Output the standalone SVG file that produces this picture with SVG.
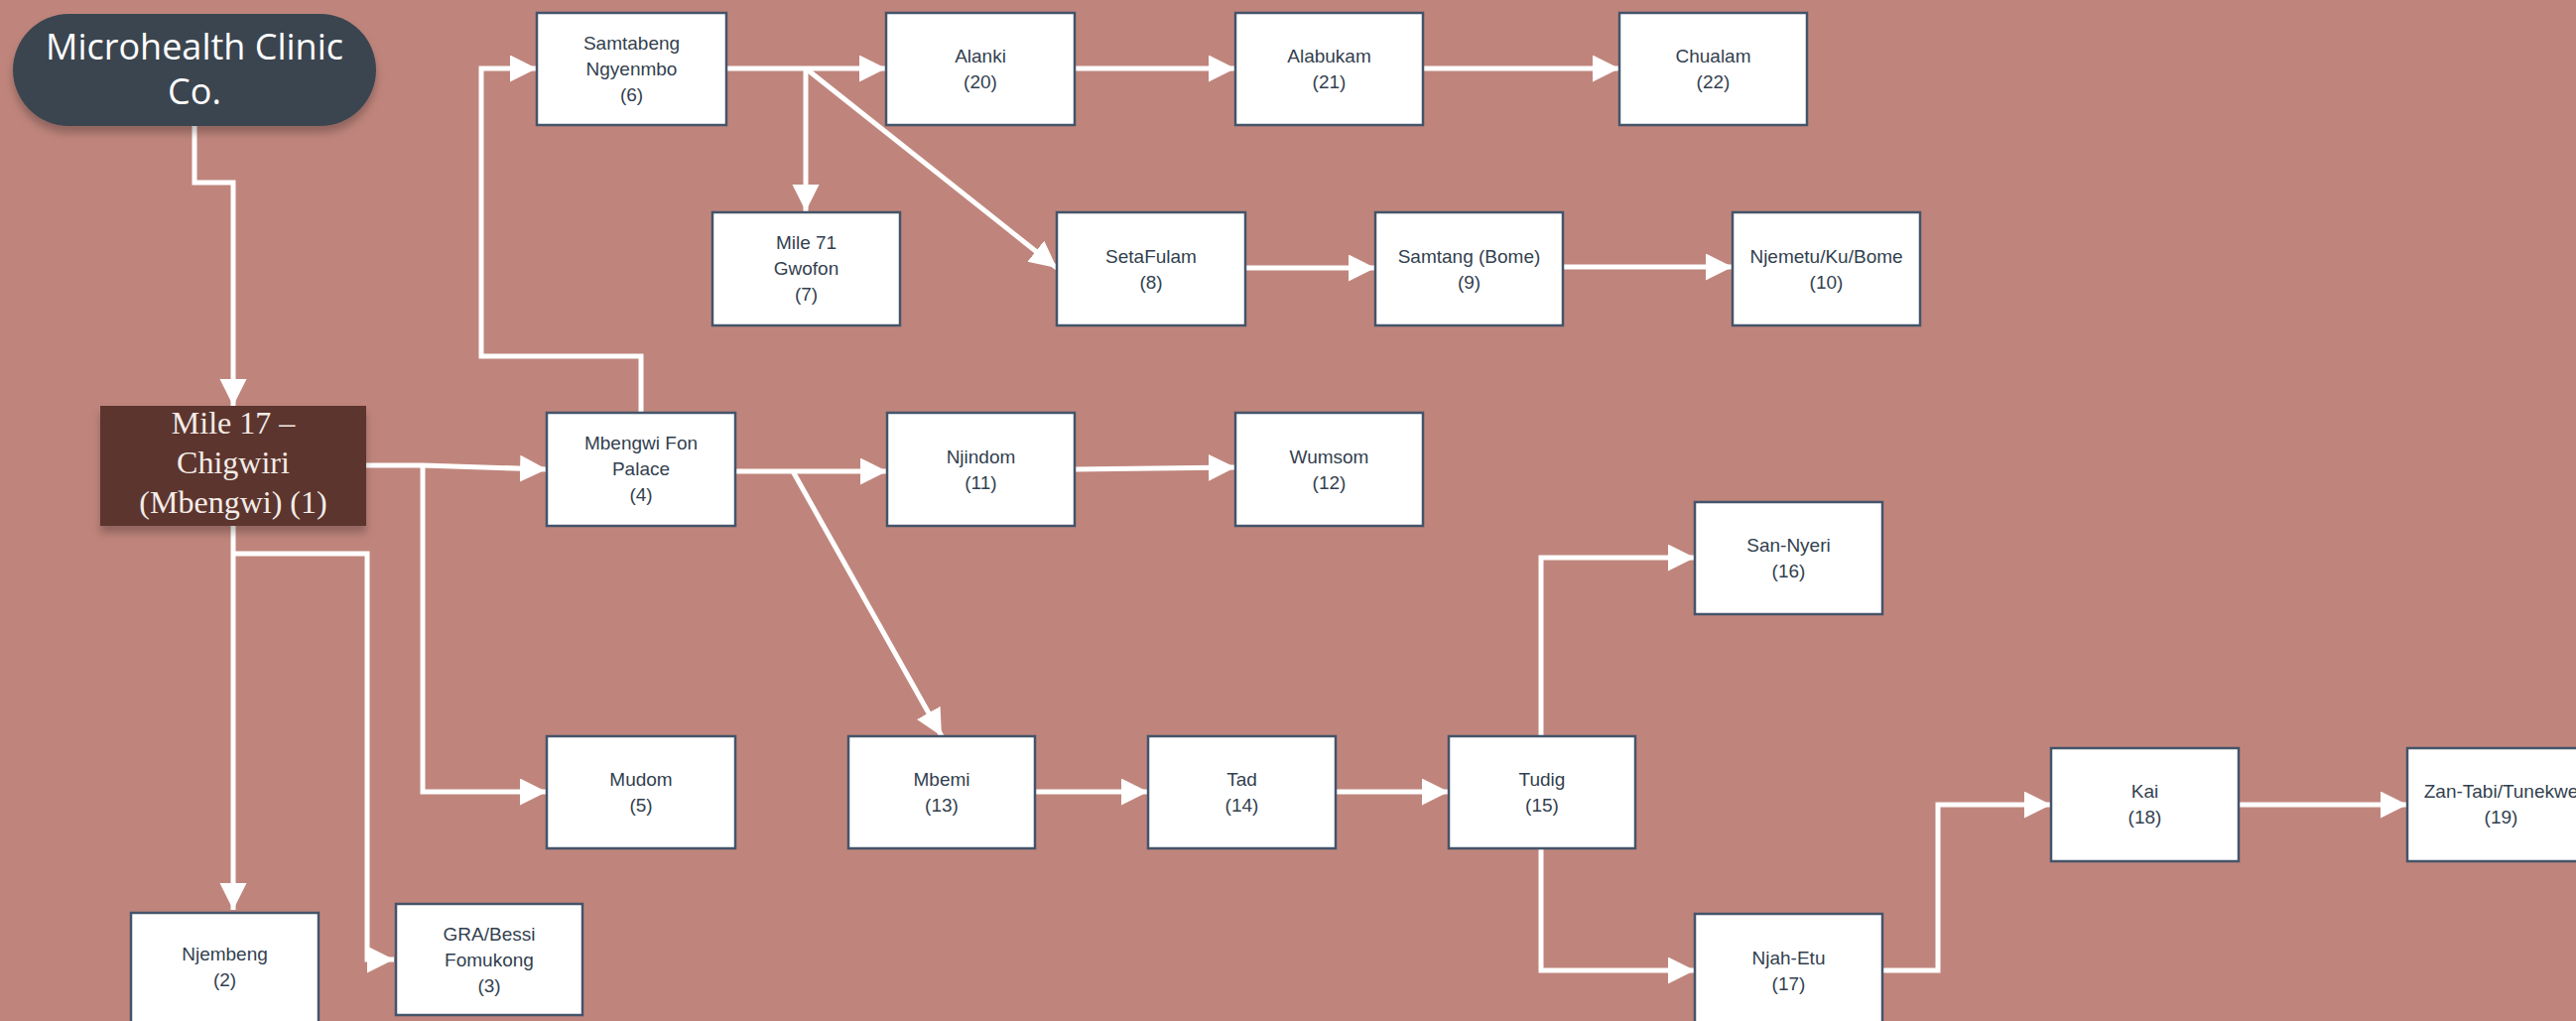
<svg xmlns="http://www.w3.org/2000/svg" width="2596" height="1029" viewBox="0 0 2596 1029">
<style>
.bg{fill:#bf857c}
.box{fill:#ffffff;stroke:#44546a;stroke-width:2.5}
.t{font-family:"Liberation Sans",Arial,sans-serif;font-size:19px;fill:#333f4f;text-anchor:middle}
.c{fill:none;stroke:#ffffff;stroke-width:5;marker-end:url(#ah)}
.cn{fill:none;stroke:#ffffff;stroke-width:5}
.pt{font-family:"Open Sans","Noto Sans",sans-serif;font-size:36px;fill:#ffffff;text-anchor:middle}
.mt{font-family:"Liberation Serif","Times New Roman",serif;font-size:32px;fill:#f3ece8;text-anchor:middle}
</style>
<defs>
<marker id="ah" markerUnits="userSpaceOnUse" markerWidth="28" markerHeight="28" refX="27" refY="13.5" orient="auto">
<path d="M0,0 L27,13.5 L0,27 z" fill="#ffffff"/>
</marker>
<filter id="sh" x="-10%" y="-10%" width="120%" height="140%">
<feDropShadow dx="0" dy="7" stdDeviation="4" flood-color="#000000" flood-opacity="0.25"/>
</filter>
</defs>
<rect class="bg" x="0" y="0" width="2596" height="1029"/>

<g id="connectors">
<path class="c" d="M196,127 V184 H235 V409"/>
<path class="c" d="M369,469 H426 L551,473"/>
<path class="c" d="M426,469 V798 H551"/>
<path class="c" d="M235,530 V917"/>
<path class="c" d="M235,558 H370 V967 H397"/>
<path class="c" d="M646,416 V359 H485 V69 H541"/>
<path class="c" d="M732,69 H893"/>
<path class="c" d="M812,69 V213"/>
<path class="c" d="M812,69 L1065,270"/>
<path class="c" d="M1083,69 H1245"/>
<path class="c" d="M1434,69 H1632"/>
<path class="c" d="M1255,270 H1386"/>
<path class="c" d="M1575,269 H1746"/>
<path class="c" d="M741,475 H894"/>
<path class="c" d="M799,475 L949,742"/>
<path class="c" d="M1083,473 L1245,471"/>
<path class="c" d="M1043,798 H1157"/>
<path class="c" d="M1346,798 H1460"/>
<path class="c" d="M1553,742 V562 H1708"/>
<path class="c" d="M1553,855 V978 H1708"/>
<path class="c" d="M1897,978 H1953 V811 H2067"/>
<path class="c" d="M2256,811 H2426"/>
</g>

<g id="n0">
<rect x="13" y="14" width="366" height="113" rx="56.5" ry="56.5" fill="#3b4550" filter="url(#sh)"/>
<text class="pt" x="196" y="60">Microhealth Clinic</text>
<text class="pt" x="196" y="105">Co.</text>
</g>

<g id="n1">
<rect x="101" y="409" width="268" height="121" fill="#5c342e" filter="url(#sh)"/>
<text class="mt" x="235" y="437">Mile 17 –</text>
<text class="mt" x="235" y="477">Chigwiri</text>
<text class="mt" x="235" y="517">(Mbengwi) (1)</text>
</g>

<g id="n2"><rect class="box" x="132" y="920" width="189" height="113"/>
<text class="t" x="226.5" y="968">Njembeng</text><text class="t" x="226.5" y="994">(2)</text></g>

<g id="n3"><rect class="box" x="399" y="911" width="188" height="112"/>
<text class="t" x="493" y="948">GRA/Bessi</text><text class="t" x="493" y="974">Fomukong</text><text class="t" x="493" y="1000">(3)</text></g>

<g id="n4"><rect class="box" x="551" y="416" width="190" height="114"/>
<text class="t" x="646" y="453">Mbengwi Fon</text><text class="t" x="646" y="479">Palace</text><text class="t" x="646" y="505">(4)</text></g>

<g id="n5"><rect class="box" x="551" y="742" width="190" height="113"/>
<text class="t" x="646" y="792">Mudom</text><text class="t" x="646" y="818">(5)</text></g>

<g id="n6"><rect class="box" x="541" y="13" width="191" height="113"/>
<text class="t" x="636.5" y="50">Samtabeng</text><text class="t" x="636.5" y="76">Ngyenmbo</text><text class="t" x="636.5" y="102">(6)</text></g>

<g id="n7"><rect class="box" x="718" y="214" width="189" height="114"/>
<text class="t" x="812.5" y="251">Mile 71</text><text class="t" x="812.5" y="277">Gwofon</text><text class="t" x="812.5" y="303">(7)</text></g>

<g id="n8"><rect class="box" x="1065" y="214" width="190" height="114"/>
<text class="t" x="1160" y="265">SetaFulam</text><text class="t" x="1160" y="291">(8)</text></g>

<g id="n9"><rect class="box" x="1386" y="214" width="189" height="114"/>
<text class="t" x="1480.5" y="265">Samtang (Bome)</text><text class="t" x="1480.5" y="291">(9)</text></g>

<g id="n10"><rect class="box" x="1746" y="214" width="189" height="114"/>
<text class="t" x="1840.5" y="265">Njemetu/Ku/Bome</text><text class="t" x="1840.5" y="291">(10)</text></g>

<g id="n11"><rect class="box" x="894" y="416" width="189" height="114"/>
<text class="t" x="988.5" y="467">Njindom</text><text class="t" x="988.5" y="493">(11)</text></g>

<g id="n12"><rect class="box" x="1245" y="416" width="189" height="114"/>
<text class="t" x="1339.5" y="467">Wumsom</text><text class="t" x="1339.5" y="493">(12)</text></g>

<g id="n13"><rect class="box" x="855" y="742" width="188" height="113"/>
<text class="t" x="949" y="792">Mbemi</text><text class="t" x="949" y="818">(13)</text></g>

<g id="n14"><rect class="box" x="1157" y="742" width="189" height="113"/>
<text class="t" x="1251.5" y="792">Tad</text><text class="t" x="1251.5" y="818">(14)</text></g>

<g id="n15"><rect class="box" x="1460" y="742" width="188" height="113"/>
<text class="t" x="1554" y="792">Tudig</text><text class="t" x="1554" y="818">(15)</text></g>

<g id="n16"><rect class="box" x="1708" y="506" width="189" height="113"/>
<text class="t" x="1802.5" y="556">San-Nyeri</text><text class="t" x="1802.5" y="582">(16)</text></g>

<g id="n17"><rect class="box" x="1708" y="921" width="189" height="113"/>
<text class="t" x="1802.5" y="972">Njah-Etu</text><text class="t" x="1802.5" y="998">(17)</text></g>

<g id="n18"><rect class="box" x="2067" y="754" width="189" height="114"/>
<text class="t" x="2161.5" y="804">Kai</text><text class="t" x="2161.5" y="830">(18)</text></g>

<g id="n19"><rect class="box" x="2426" y="754" width="189" height="114"/>
<text class="t" x="2520.5" y="804">Zan-Tabi/Tunekwe</text><text class="t" x="2520.5" y="830">(19)</text></g>

<g id="n20"><rect class="box" x="893" y="13" width="190" height="113"/>
<text class="t" x="988" y="63">Alanki</text><text class="t" x="988" y="89">(20)</text></g>

<g id="n21"><rect class="box" x="1245" y="13" width="189" height="113"/>
<text class="t" x="1339.5" y="63">Alabukam</text><text class="t" x="1339.5" y="89">(21)</text></g>

<g id="n22"><rect class="box" x="1632" y="13" width="189" height="113"/>
<text class="t" x="1726.5" y="63">Chualam</text><text class="t" x="1726.5" y="89">(22)</text></g>
</svg>
